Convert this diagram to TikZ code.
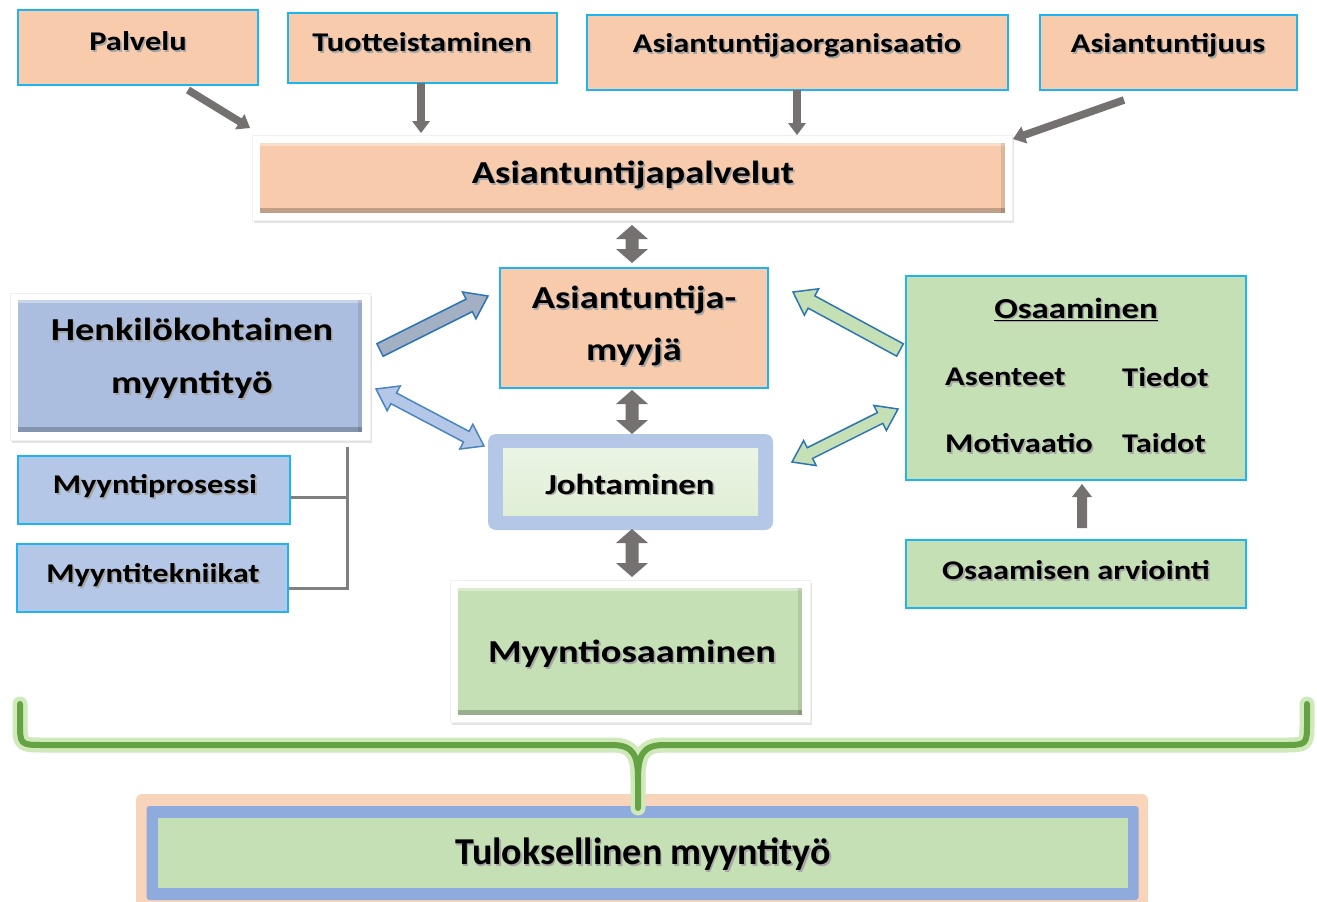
\documentclass[tikz,border=0pt]{standalone}
\usepackage{fontspec}
\setmainfont{Carlito}
\newfontfamily\wfont{Carlito}[FakeStretch=1.2]
\usetikzlibrary{calc,shadows}
\definecolor{peach}{HTML}{F8CBAD}
\definecolor{cyanb}{HTML}{1EB4F0}
\definecolor{lblue}{HTML}{B4C7E7}
\definecolor{mblue}{HTML}{ABBEE0}
\definecolor{lgreen}{HTML}{C5E0B4}
\definecolor{vlgreen}{HTML}{E2F0D9}
\definecolor{garrow}{HTML}{767171}
\definecolor{oblue}{HTML}{2E75B6}
\definecolor{slate}{HTML}{A3AFC2}
\definecolor{bgreen}{HTML}{65A243}
\definecolor{glowg}{HTML}{CFE9BA}
\definecolor{tblue}{HTML}{8FAADC}
\definecolor{tglow}{HTML}{F4B183}
\definecolor{lgray}{HTML}{808080}
\newcommand\sh[1]{\leavevmode\rlap{\hspace{1.6pt}\raisebox{-1.6pt}{\textcolor{black!35}{#1}}}#1}
% style, A, B, half shaft, half head, head length
\newcommand\blockarrow[6]{%
  \path ($(#3)!#6!(#2)$) coordinate (bac);
  \filldraw[#1] ($(#2)!#4!90:(#3)$) -- ($(bac)!#4!90:(#3)$) -- ($(bac)!#5!90:(#3)$) -- (#3)
    -- ($(bac)!#5!-90:(#3)$) -- ($(bac)!#4!-90:(#3)$) -- ($(#2)!#4!-90:(#3)$) -- cycle;}
\newcommand\dblarrow[6]{%
  \path ($(#2)!#6!(#3)$) coordinate (dba) ($(#3)!#6!(#2)$) coordinate (dbb);
  \filldraw[#1] (#2) -- ($(dba)!#5!90:(#3)$) -- ($(dba)!#4!90:(#3)$) -- ($(dbb)!#4!90:(#3)$)
    -- ($(dbb)!#5!90:(#3)$) -- (#3) -- ($(dbb)!#5!-90:(#3)$) -- ($(dbb)!#4!-90:(#3)$)
    -- ($(dba)!#4!-90:(#3)$) -- ($(dba)!#5!-90:(#3)$) -- cycle;}
\tikzset{
  box/.style={draw=cyanb, line width=1.5pt, inner sep=0pt},
  frame/.style={fill=white, draw=black!6, line width=0.5pt, inner sep=0pt,
    drop shadow={opacity=0.22, shadow xshift=1.5pt, shadow yshift=-3pt}},
  bevel/.style={inner sep=0pt, path picture={
    \fill[white, opacity=0.35] (path picture bounding box.north west) rectangle ([yshift=-3pt]path picture bounding box.north east);
    \fill[black, opacity=0.22] ([yshift=5pt]path picture bounding box.south west) rectangle (path picture bounding box.south east);
    \fill[black, opacity=0.10] ([xshift=-4pt]path picture bounding box.north east) rectangle (path picture bounding box.south east);}},
  ta/.style={font=\wfont\bfseries\fontsize{27}{30}\selectfont, inner sep=0pt},
  tb/.style={font=\wfont\bfseries\fontsize{29}{32}\selectfont, inner sep=0pt},
  tc/.style={font=\wfont\bfseries\fontsize{32}{52}\selectfont, inner sep=0pt, align=center},
  grayarrow/.style={fill=garrow, draw=none},
  bluearrow/.style={fill=slate, draw=oblue, line width=1.5pt, line join=miter},
  lbluearrow/.style={fill=lblue, draw=oblue!80!lblue, line width=1.5pt},
  greenarrow/.style={fill=lgreen, draw=oblue, line width=1.5pt},
  bline/.style={draw=lgray, line width=3pt},
}
\begin{document}
\begin{tikzpicture}[x=1pt,y=-1pt]
\useasboundingbox (0,0) rectangle (1317,902);
\fill[white] (0,0) rectangle (1317,902);

% top boxes
\node[box, fill=peach, minimum width=240pt, minimum height=75pt] (pal) at (138,47.5) {};
\node[ta] (palt) at (138,42) {\sh{Palvelu}};
\node[box, fill=peach, minimum width=269pt, minimum height=70pt] (tuo) at (422.5,48) {};
\node[ta] (tuot) at (422,43) {\sh{Tuotteistaminen}};
\node[box, fill=peach, minimum width=421pt, minimum height=75pt] (aorg) at (797.5,52.5) {};
\node[ta] (aorgt) at (797,46) {\sh{Asiantuntijaorganisaatio}};
\node[box, fill=peach, minimum width=257pt, minimum height=75pt] (aju) at (1168.5,52.5) {};
\node[ta] (ajut) at (1168,46) {\sh{Asiantuntijuus}};

% Asiantuntijapalvelut
\node[frame, minimum width=760pt, minimum height=85pt] (apalf) at (632,177.5) {};
\node[bevel, fill=peach, minimum width=745pt, minimum height=70pt] (apal) at (632.5,178) {};
\node[tc] (apalt) at (633,176) {\sh{Asiantuntijapalvelut}};

% Asiantuntija-myyja
\node[box, fill=peach, minimum width=268pt, minimum height=120pt] (am) at (634,328) {};
\node[tc] (amt) at (634,327) {\sh{Asiantuntija-}\\\sh{myyjä}};

% Johtaminen
\node[fill=lblue, rounded corners=8pt, minimum width=285pt, minimum height=96pt] (joho) at (630.5,482) {};
\node[top color=vlgreen!70!white, bottom color=vlgreen!90!lgreen, minimum width=255pt, minimum height=67pt] (joh) at (630.5,481.5) {};
\node[tb] (joht) at (630,485) {\sh{Johtaminen}};

% Myyntiosaaminen
\node[frame, minimum width=360pt, minimum height=142pt] (mosf) at (630,651) {};
\node[bevel, fill=lgreen, minimum width=344pt, minimum height=127pt] (mos) at (630,651.5) {};
\node[tc] (most) at (632,655) {\sh{Myyntiosaaminen}};

% Henkilokohtainen myyntityo
\node[frame, minimum width=360pt, minimum height=147pt] (henkf) at (190,366.5) {};
\node[bevel, fill=mblue, minimum width=344pt, minimum height=132pt] (henk) at (190,366) {};
\node[tc, font=\wfont\bfseries\fontsize{32}{53}\selectfont] (henkt) at (192,359) {\sh{Henkilökohtainen}\\\sh{myyntityö}};

\node[box, fill=lblue, minimum width=272pt, minimum height=68pt] (mpro) at (154,490) {};
\node[ta] (mprot) at (155,487) {\sh{Myyntiprosessi}};
\node[box, fill=lblue, minimum width=271pt, minimum height=68pt] (mtek) at (152.5,578) {};
\node[ta] (mtekt) at (153,576) {\sh{Myyntitekniikat}};

\coordinate (jtop) at (347,447);
\coordinate (jbot) at (347,588);
\draw[bline] (jtop) -- (jbot) -- ([yshift=-10pt]mtek.east);
\draw[bline] ([yshift=-7pt]mpro.east) -- ([yshift=-7pt]mpro.east -| jtop);

% Osaaminen
\node[box, fill=lgreen, minimum width=340pt, minimum height=204pt] (osa) at (1076,378) {};
\node[tb] (osat) at (1076,310) {\sh{\underline{Osaaminen}}};
\node[ta, anchor=west] (ase) at (945,378) {\sh{Asenteet}};
\node[ta, anchor=west] (tie) at (1122,378) {\sh{Tiedot}};
\node[ta, anchor=west] (mot) at (945,444) {\sh{Motivaatio}};
\node[ta, anchor=west] (tai) at (1122,444) {\sh{Taidot}};
\node[box, fill=lgreen, minimum width=340pt, minimum height=68pt] (arv) at (1076,574) {};
\node[ta] (arvt) at (1076,571) {\sh{Osaamisen arviointi}};

% Tuloksellinen myyntityo
\node[fill=tglow, opacity=0.55, rounded corners=6pt, minimum width=1012pt, minimum height=114pt] (tulg) at (642,851) {};
\node[fill=tblue, rounded corners=3pt, minimum width=992pt, minimum height=94pt] (tulb) at (642.5,853) {};
\node[fill=lgreen, minimum width=970pt, minimum height=70pt] (tul) at (643,853) {};
\node[font=\bfseries\fontsize{38}{40}\selectfont, inner sep=0pt] (tult) at (643,855) {\sh{Tuloksellinen myyntityö}};

% brace
\foreach \w/\c in {15/glowg, 6/bgreen}{
\draw[line width=\w pt, \c, line cap=round, line join=round]
  (20,704) -- (20,722) .. controls (20,745) .. (44,745) -- (612,745)
  .. controls (634,745) and (638,756) .. (638,780) -- (638,808)
  (1307,704) -- (1307,722) .. controls (1307,745) .. (1283,745) -- (664,745)
  .. controls (642,745) and (638,756) .. (638,780);
}

% gray arrows top
\coordinate (a1s) at (188,90);  \coordinate (a1e) at (250,128);
\coordinate (a2s) at (421,83);  \coordinate (a2e) at (421,133);
\coordinate (a3s) at (797,90);  \coordinate (a3e) at (797,135);
\coordinate (a4s) at (1124,100); \coordinate (a4e) at (1013,139);
\blockarrow{grayarrow}{a1s}{a1e}{3.8pt}{9pt}{12pt}
\blockarrow{grayarrow}{a2s}{a2e}{3.8pt}{9pt}{12pt}
\blockarrow{grayarrow}{a3s}{a3e}{3.8pt}{9pt}{12pt}
\blockarrow{grayarrow}{a4s}{a4e}{3.8pt}{9pt}{12pt}

% gray double arrows
\coordinate (d1s) at (632,225); \coordinate (d1e) at (632,263);
\coordinate (d2s) at (632,390); \coordinate (d2e) at (632,434);
\coordinate (d3s) at (632,529); \coordinate (d3e) at (632,577);
\dblarrow{grayarrow}{d1s}{d1e}{6.5pt}{16pt}{14pt}
\dblarrow{grayarrow}{d2s}{d2e}{6.5pt}{16pt}{14pt}
\dblarrow{grayarrow}{d3s}{d3e}{6.5pt}{16pt}{14pt}

% arrow from arviointi to osaaminen
\coordinate (o1s) at (1082,528); \coordinate (o1e) at (1082,484);
\blockarrow{grayarrow}{o1s}{o1e}{5pt}{10pt}{13pt}

% blue arrows
\coordinate (h1s) at (380,350); \coordinate (h1e) at (488,296);
\blockarrow{bluearrow}{h1s}{h1e}{7pt}{15pt}{21pt}
\coordinate (h2s) at (376,389); \coordinate (h2e) at (484,446);
\dblarrow{lbluearrow}{h2s}{h2e}{6pt}{14pt}{20pt}

% green arrows
\coordinate (g1s) at (900,350); \coordinate (g1e) at (793,292);
\blockarrow{greenarrow}{g1s}{g1e}{7pt}{15pt}{21pt}
\coordinate (g2s) at (898,409); \coordinate (g2e) at (792,462);
\dblarrow{greenarrow}{g2s}{g2e}{6pt}{14pt}{20pt}
\end{tikzpicture}
\end{document}
